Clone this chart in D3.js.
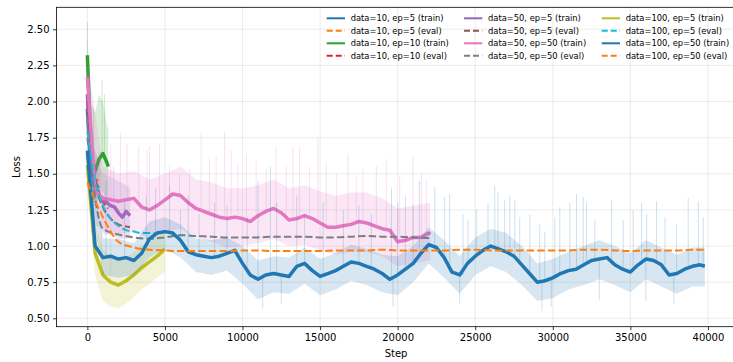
<!DOCTYPE html>
<html>
<head>
<meta charset="utf-8">
<script src="https://cdn.jsdelivr.net/npm/d3@7"></script>
<style>
  body { margin: 0; background: #fff; }
  svg { display: block; font-family: "DejaVu Sans", sans-serif; }
</style>
</head>
<body>
<svg id="chart" width="733" height="362"></svg>
<script>
// ---- data ----
const xTicks = [0, 5000, 10000, 15000, 20000, 25000, 30000, 35000, 40000];
const yTicks = [0.50, 0.75, 1.00, 1.25, 1.50, 1.75, 2.00, 2.25, 2.50];

// data=10, ep=5
const r10e5End = 700;
const r10e5Smooth = [1.95, 1.75, 1.60, 1.52, 1.47, 1.44, 1.42, 1.40];          // every 100 steps
const r10e5Lo = [1.80, 1.30, 1.25];                                               // every 350 steps
const r10e5Hi = [2.10, 1.70, 1.60];
const r10e5Spikes = [];
const r10e5Eval = [1.90, 1.55, 1.45];                                             // every 350 steps

// data=10, ep=10
const r10e10End = 1350;
const r10e10Smooth = [2.32, 1.62, 1.52, 1.60, 1.64, 1.58, 1.55];                 // every 250 steps
const r10e10Lo = [2.15, 1.35, 1.30, 1.35, 1.38, 1.30, 1.30];
const r10e10Hi = [2.45, 2.00, 1.92, 2.05, 2.00, 1.85, 1.80];
const r10e10Spikes = [[0, 2.55], [400, 1.95], [950, 2.15], [1100, 2.05]];
const r10e10Eval = [2.05, 1.52, 1.33, 1.26];                                      // every 450 steps

// data=50, ep=5
const r50e5End = 2750;
const r50e5Smooth = [2.05, 1.55, 1.40, 1.35, 1.32, 1.30, 1.28, 1.27, 1.23, 1.20, 1.24, 1.21]; // every 250
const r50e5Lo = [1.85, 1.15, 1.10, 1.08, 1.05, 1.05, 1.05];                       // every 500
const r50e5Hi = [2.20, 1.60, 1.50, 1.48, 1.45, 1.42, 1.40];
const r50e5Spikes = [[800, 1.65], [1700, 1.55]];
const r50e5Eval = [2.00, 1.45, 1.27, 1.19, 1.15, 1.135, 1.13];                     // every 500

// data=50, ep=50
const r50e50End = 22100;
const r50e50Smooth = [                                                            // every 500 steps
  2.17, 1.38, 1.33, 1.32, 1.31, 1.32, 1.33, 1.27, 1.25, 1.28,
  1.32, 1.36, 1.35, 1.30, 1.26, 1.24, 1.22, 1.20, 1.19, 1.20,
  1.19, 1.17, 1.21, 1.24, 1.26, 1.23, 1.18, 1.19, 1.21, 1.19,
  1.16, 1.13, 1.13, 1.14, 1.15, 1.17, 1.16, 1.14, 1.12, 1.11,
  1.03, 1.04, 1.06, 1.06, 1.09, 1.08];
const r50e50Lo = [1.95, 1.08, 1.08, 1.10, 1.05, 1.10, 1.12, 1.06, 1.03, 0.99, 1.00, 1.02,
  1.05, 1.00, 1.01, 0.97, 0.94, 0.96, 0.96, 0.93, 0.86, 0.88, 0.90, 0.90];         // every 1000
const r50e50Hi = [2.30, 1.55, 1.50, 1.52, 1.46, 1.50, 1.55, 1.46, 1.44, 1.40, 1.40, 1.42,
  1.46, 1.40, 1.42, 1.38, 1.35, 1.37, 1.37, 1.33, 1.26, 1.28, 1.30, 1.30];
const r50e50Spikes = [[1500, 1.70], [2130, 1.78], [2560, 1.71], [3310, 1.69], [3850, 1.66],
  [4000, 1.69], [4650, 1.71], [5290, 1.55], [5940, 1.50], [6580, 1.53], [7335, 1.78],
  [7870, 1.60], [8300, 1.62], [8840, 1.79], [9270, 1.66], [9700, 1.57], [10240, 1.64],
  [10880, 1.60], [11530, 1.53], [12170, 1.69], [12820, 1.55], [13250, 1.69], [13680, 1.69],
  [14320, 1.55], [14860, 1.75], [15400, 1.57], [16050, 1.50], [16800, 1.64], [17330, 1.48],
  [17760, 1.53], [18630, 1.55], [19270, 1.60], [20130, 1.48], [20990, 1.62], [21530, 1.50],
  [21850, 1.46]];
const r50e50Eval = [1.75, 1.12, 1.08, 1.06, 1.05, 1.06, 1.075, 1.07, 1.065, 1.06, 1.06, 1.06,
  1.065, 1.065, 1.065, 1.06, 1.06, 1.065, 1.07, 1.065, 1.065, 1.06, 1.055, 1.055];  // every 1000

// data=100, ep=5
const r100e5End = 5000;
const r100e5Smooth = [1.56, 0.95, 0.80, 0.75, 0.73, 0.76, 0.80, 0.85, 0.89, 0.93, 0.98]; // every 500
const r100e5Lo = [1.45, 0.80, 0.62, 0.58, 0.57, 0.60, 0.65, 0.70, 0.74, 0.78, 0.82];
const r100e5Hi = [1.65, 1.15, 0.98, 0.92, 0.90, 0.92, 0.96, 1.00, 1.04, 1.07, 1.10];
const r100e5Spikes = [[900, 1.25], [1500, 1.15]];
const r100e5EvalEnd = 4500;
const r100e5Eval = [1.79, 1.45, 1.28, 1.19, 1.14, 1.11, 1.10, 1.09, 1.09, 1.085];       // every 500

// data=100, ep=50
const r100e50End = 39800;
const r100e50Smooth = [                                                           // every 500 steps
  1.66, 1.00, 0.92, 0.93, 0.91, 0.92, 0.90, 0.95, 1.05, 1.09,
  1.10, 1.09, 1.04, 0.96, 0.94, 0.93, 0.92, 0.93, 0.95, 0.97,
  0.88, 0.80, 0.77, 0.80, 0.81, 0.80, 0.79, 0.86, 0.88, 0.83,
  0.79, 0.81, 0.83, 0.86, 0.89, 0.88, 0.86, 0.84, 0.81, 0.77,
  0.80, 0.84, 0.88, 0.95, 1.01, 0.99, 0.92, 0.82, 0.80, 0.88,
  0.93, 0.97, 1.00, 0.98, 0.96, 0.93, 0.87, 0.81, 0.75, 0.76,
  0.78, 0.81, 0.83, 0.84, 0.87, 0.90, 0.91, 0.92, 0.87, 0.84,
  0.82, 0.87, 0.91, 0.90, 0.87, 0.80, 0.81, 0.84, 0.86, 0.87,
  0.86];
const r100e50Lo = [                                                               // every 1000 steps
  1.45, 0.80, 0.78, 0.80, 0.92, 0.98, 0.92, 0.82, 0.80, 0.83,
  0.74, 0.63, 0.68, 0.67, 0.74, 0.66, 0.70, 0.76, 0.73, 0.68,
  0.66, 0.75, 0.88, 0.78, 0.67, 0.80, 0.86, 0.82, 0.73, 0.62,
  0.64, 0.70, 0.73, 0.77, 0.73, 0.68, 0.77, 0.72, 0.67, 0.72,
  0.72];
const r100e50Hi = [
  1.75, 1.05, 1.05, 1.02, 1.17, 1.20, 1.15, 1.05, 1.04, 1.06,
  1.00, 0.90, 0.93, 0.92, 0.99, 0.91, 0.95, 1.01, 0.98, 0.94,
  0.93, 1.00, 1.13, 1.04, 0.93, 1.06, 1.12, 1.09, 1.00, 0.88,
  0.91, 0.96, 1.00, 1.04, 1.00, 0.95, 1.04, 0.99, 0.94, 0.99,
  0.99];
const r100e50Spikes = [[1200, 1.45], [2400, 1.30], [3800, 1.35], [4400, 1.40], [5300, 1.42],
  [6000, 1.25], [6500, 1.35], [7200, 1.22], [8200, 1.30], [9000, 1.28], [10300, 1.20],
  [11000, 1.45], [11800, 1.55], [12200, 1.30], [13500, 1.35], [14000, 1.22], [15200, 1.30],
  [16500, 1.25], [17500, 1.28], [18300, 1.22], [19600, 1.40], [20000, 1.30], [20500, 1.35],
  [21000, 1.28], [21400, 1.45], [22390, 1.41], [23030, 1.34], [23350, 1.36], [24215, 1.22],
  [24540, 1.18], [25075, 1.25], [25825, 1.30], [26260, 1.42], [26470, 1.37], [26900, 1.32],
  [27230, 1.35], [27550, 1.32], [27870, 1.20], [28520, 1.22], [29160, 1.15], [29480, 1.10],
  [30130, 1.20], [30450, 1.27], [31100, 1.30], [31530, 1.36], [31960, 1.34], [32170, 1.30],
  [32710, 1.18], [33790, 1.32], [34540, 1.18], [35180, 1.25], [35720, 1.30], [36050, 1.22],
  [36690, 1.31], [37230, 1.20], [37980, 1.15], [38730, 1.33], [39380, 1.31], [39700, 1.20],
  [11300, 0.57], [12500, 0.60], [19700, 0.58], [24000, 0.60], [29300, 0.55], [29900, 0.58],
  [33000, 0.63], [36000, 0.62], [37800, 0.60]];
const r100e50Eval = [                                                             // every 1000 steps
  1.44, 1.20, 1.03, 0.99, 0.975, 0.97, 0.965, 0.965, 0.965, 0.965,
  0.97, 0.97, 0.965, 0.965, 0.965, 0.965, 0.97, 0.97, 0.97, 0.975,
  0.97, 0.97, 0.97, 0.97, 0.975, 0.975, 0.97, 0.97, 0.97, 0.97,
  0.97, 0.97, 0.975, 0.975, 0.97, 0.965, 0.97, 0.97, 0.97, 0.975,
  0.975];

const runs = [
  { name: "data=10, ep=5", color: "#1f77b4", evalColor: "#ff7f0e", end: r10e5End, evalEnd: r10e5End,
    smooth: r10e5Smooth, sStride: 100, lo: r10e5Lo, hi: r10e5Hi, bStride: 350, spikes: r10e5Spikes, ev: r10e5Eval, eStride: 350 },
  { name: "data=10, ep=10", color: "#2ca02c", evalColor: "#d62728", end: r10e10End, evalEnd: r10e10End,
    smooth: r10e10Smooth, sStride: 250, lo: r10e10Lo, hi: r10e10Hi, bStride: 250, spikes: r10e10Spikes, ev: r10e10Eval, eStride: 450 },
  { name: "data=50, ep=5", color: "#9467bd", evalColor: "#8c564b", end: r50e5End, evalEnd: r50e5End,
    smooth: r50e5Smooth, sStride: 250, lo: r50e5Lo, hi: r50e5Hi, bStride: 500, spikes: r50e5Spikes, ev: r50e5Eval, eStride: 500 },
  { name: "data=50, ep=50", color: "#e377c2", evalColor: "#7f7f7f", end: r50e50End, evalEnd: r50e50End,
    smooth: r50e50Smooth, sStride: 500, lo: r50e50Lo, hi: r50e50Hi, bStride: 1000, spikes: r50e50Spikes, ev: r50e50Eval, eStride: 1000 },
  { name: "data=100, ep=5", color: "#bcbd22", evalColor: "#17becf", end: r100e5End, evalEnd: r100e5EvalEnd,
    smooth: r100e5Smooth, sStride: 500, lo: r100e5Lo, hi: r100e5Hi, bStride: 500, spikes: r100e5Spikes, ev: r100e5Eval, eStride: 500 },
  { name: "data=100, ep=50", color: "#1f77b4", evalColor: "#ff7f0e", end: r100e50End, evalEnd: r100e50End,
    smooth: r100e50Smooth, sStride: 500, lo: r100e50Lo, hi: r100e50Hi, bStride: 1000, spikes: r100e50Spikes, ev: r100e50Eval, eStride: 1000 }
];

// ---- layout ----
const mLeft = 56.5, mRight = 735.7, mTop = 7.3, mBottom = 326.7;

const svg = d3.select("#chart");
const x = d3.scaleLinear().domain([-1990, 41790]).range([mLeft, mRight]);
const y = d3.scaleLinear().domain([0.442, 2.652]).range([mBottom, mTop]);

svg.append("defs").append("clipPath").attr("id", "plotclip")
  .append("rect").attr("x", mLeft).attr("y", mTop).attr("width", mRight - mLeft).attr("height", mBottom - mTop);

// grid
const grid = svg.append("g").attr("stroke", "#b0b0b0").attr("stroke-opacity", 0.3).attr("stroke-width", 0.8);
grid.selectAll("line.gx").data(xTicks).join("line").attr("class", "gx")
  .attr("x1", d => x(d)).attr("x2", d => x(d)).attr("y1", mTop).attr("y2", mBottom);
grid.selectAll("line.gy").data(yTicks).join("line").attr("class", "gy")
  .attr("x1", mLeft).attr("x2", mRight).attr("y1", d => y(d)).attr("y2", d => y(d));

const plot = svg.append("g").attr("clip-path", "url(#plotclip)");

// step at index i for a series sampled every `stride`, clipped at its last step
const stepAt = (i, stride, end) => Math.min(i * stride, end);

runs.forEach(r => {
  const band = r.lo.map((v, i) => [stepAt(i, r.bStride, r.end), v, r.hi[i]]);
  const sm = r.smooth.map((v, i) => [stepAt(i, r.sStride, r.end), v]);
  const ev = r.ev.map((v, i) => [stepAt(i, r.eStride, r.evalEnd), v]);

  // raw (faint) loss
  plot.append("path")
    .datum(band)
    .attr("fill", r.color)
    .attr("fill-opacity", 0.18)
    .attr("d", d3.area().x(d => x(d[0])).y0(d => y(d[1])).y1(d => y(d[2])));

  plot.append("g")
    .selectAll("line")
    .data(r.spikes)
    .join("line")
    .attr("x1", d => x(d[0])).attr("x2", d => x(d[0]))
    .attr("y1", d => y(r.smooth[Math.min(r.smooth.length - 1, Math.round(d[0] / r.sStride))]))
    .attr("y2", d => y(d[1]))
    .attr("stroke", r.color)
    .attr("stroke-opacity", 0.22)
    .attr("stroke-width", 1);

  // smoothed train loss
  plot.append("path")
    .datum(sm)
    .attr("fill", "none")
    .attr("stroke", r.color)
    .attr("stroke-width", 3.5)
    .attr("stroke-linejoin", "round")
    .attr("d", d3.line().x(d => x(d[0])).y(d => y(d[1])));

  // eval loss
  plot.append("path")
    .datum(ev)
    .attr("fill", "none")
    .attr("stroke", r.evalColor)
    .attr("stroke-width", 2)
    .attr("stroke-dasharray", "7.4,3.2")
    .attr("d", d3.line().curve(d3.curveMonotoneX).x(d => x(d[0])).y(d => y(d[1])));
});

// axes
svg.append("g")
  .attr("transform", `translate(0,${mBottom})`)
  .call(d3.axisBottom(x).tickValues(xTicks).tickFormat(d3.format("d")).tickSize(3.5).tickPadding(3.5))
  .call(g => g.select(".domain").remove())
  .call(g => g.selectAll("text").attr("font-size", 10).attr("fill", "#000").attr("font-family", "DejaVu Sans"))
  .call(g => g.selectAll("line").attr("stroke", "#000").attr("stroke-width", 0.8));

svg.append("g")
  .attr("transform", `translate(${mLeft},0)`)
  .call(d3.axisLeft(y).tickValues(yTicks).tickFormat(d3.format(".2f")).tickSize(3.5).tickPadding(3.5))
  .call(g => g.select(".domain").remove())
  .call(g => g.selectAll("text").attr("font-size", 10).attr("fill", "#000").attr("font-family", "DejaVu Sans"))
  .call(g => g.selectAll("line").attr("stroke", "#000").attr("stroke-width", 0.8));

// spines
svg.append("rect")
  .attr("x", mLeft).attr("y", mTop).attr("width", mRight - mLeft).attr("height", mBottom - mTop)
  .attr("fill", "none").attr("stroke", "#000").attr("stroke-width", 0.8);

svg.append("text")
  .attr("x", (mLeft + mRight) / 2).attr("y", 357)
  .attr("text-anchor", "middle").attr("font-size", 10)
  .text("Step");

svg.append("text")
  .attr("transform", `translate(20,${(mTop + mBottom) / 2}) rotate(-90)`)
  .attr("text-anchor", "middle").attr("font-size", 10)
  .text("Loss");

// legend, 3 columns x 4 rows
const legendItems = [];
runs.forEach(r => {
  legendItems.push({ label: `${r.name} (train)`, color: r.color, dashed: false });
  legendItems.push({ label: `${r.name} (eval)`, color: r.evalColor, dashed: true });
});
const colX = [326.7, 464, 601.7];
const rowY = [18.3, 30.8, 43.3, 55.8];

const legend = svg.append("g");
legend.selectAll("g")
  .data(legendItems)
  .join("g")
  .attr("transform", (d, i) => `translate(${colX[Math.floor(i / 4)]},${rowY[i % 4]})`)
  .each(function (d) {
    const g = d3.select(this);
    g.append("line")
      .attr("x1", 0).attr("x2", 18.3).attr("y1", 0).attr("y2", 0)
      .attr("stroke", d.color).attr("stroke-width", 2)
      .attr("stroke-dasharray", d.dashed ? "6,3" : null);
    g.append("text")
      .attr("x", 24).attr("y", 3)
      .attr("font-size", 8.33)
      .attr("fill", "#000")
      .text(d.label);
  });
</script>
</body>
</html>
